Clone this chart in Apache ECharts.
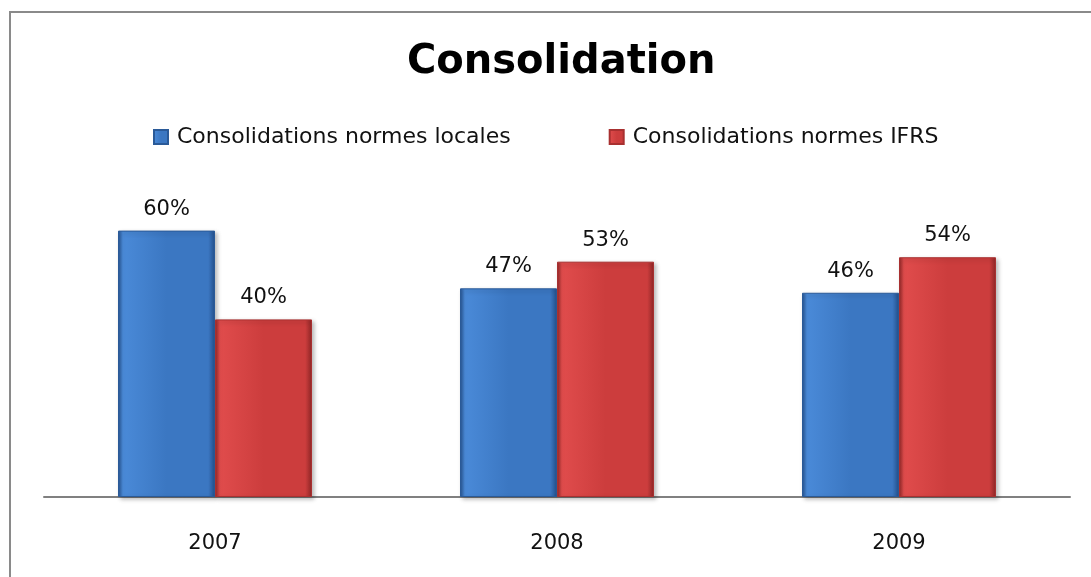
<!DOCTYPE html>
<html>
<head>
<meta charset="utf-8">
<script src="https://cdn.jsdelivr.net/npm/echarts@6/dist/echarts.min.js"></script>
<style>
  html, body { margin: 0; padding: 0; background: #fff; }
  #chart { width: 1091px; height: 577px; }
</style>
</head>
<body>
<div id="chart"></div>
<script>
const years = ['2007', '2008', '2009']
const localeValues = [60, 47, 46]
const ifrsValues = [40, 53, 54]

const chart = echarts.init(document.getElementById('chart'))

function bevel(light, mid, dark) {
  return new echarts.graphic.LinearGradient(0, 0, 1, 0, [
    { offset: 0, color: dark },
    { offset: 0.05, color: light },
    { offset: 0.5, color: mid },
    { offset: 0.93, color: mid },
    { offset: 1, color: dark }
  ])
}

const labelStyle = {
  show: true,
  position: 'top',
  distance: 11,
  formatter: '{c}%',
  fontFamily: 'DejaVu Sans',
  fontSize: 21,
  color: '#111'
}

const option = {
  backgroundColor: '#fff',
  animation: false,
  graphic: [
    {
      type: 'rect',
      shape: { x: 10, y: 12, width: 1200, height: 700 },
      style: { fill: 'none', stroke: '#8a8a8a', lineWidth: 2 },
      silent: true
    }
  ],
  title: {
    text: 'Consolidation',
    left: 402,
    top: 38,
    textStyle: { fontFamily: 'DejaVu Sans', fontWeight: 'bold', fontSize: 40, color: '#000' }
  },
  legend: {
    top: 121,
    left: 148,
    itemGap: 98,
    itemWidth: 14,
    itemHeight: 14,
    icon: 'rect',
    textStyle: { fontFamily: 'DejaVu Sans', fontSize: 22, color: '#111', padding: [0, 0, 0, 4] }
  },
  grid: { left: 44, right: 21, top: 53, bottom: 80 },
  xAxis: {
    type: 'category',
    data: years,
    axisLine: { lineStyle: { color: '#808080', width: 2 } },
    axisTick: { show: false },
    axisLabel: { margin: 36, fontFamily: 'DejaVu Sans', fontSize: 21, color: '#111' }
  },
  yAxis: {
    type: 'value',
    min: 0,
    max: 100,
    show: false,
    splitLine: { show: false }
  },
  series: [
    {
      name: 'Consolidations normes locales',
      type: 'bar',
      data: localeValues,
      barWidth: 97,
      barGap: '0%',
      label: labelStyle,
      itemStyle: {
        color: bevel('#4a8ad8', '#3b77c2', '#24508c'),
        borderColor: '#2a5a98',
        borderWidth: 1,
        shadowColor: 'rgba(0,0,0,0.25)',
        shadowBlur: 4,
        shadowOffsetX: 2,
        shadowOffsetY: 2
      }
    },
    {
      name: 'Consolidations normes IFRS',
      type: 'bar',
      data: ifrsValues,
      barWidth: 97,
      label: labelStyle,
      itemStyle: {
        color: bevel('#e04c4c', '#cc3d3d', '#8e2626'),
        borderColor: '#a83030',
        borderWidth: 1,
        shadowColor: 'rgba(0,0,0,0.25)',
        shadowBlur: 4,
        shadowOffsetX: 2,
        shadowOffsetY: 2
      }
    }
  ]
}

chart.setOption(option)
</script>
</body>
</html>
